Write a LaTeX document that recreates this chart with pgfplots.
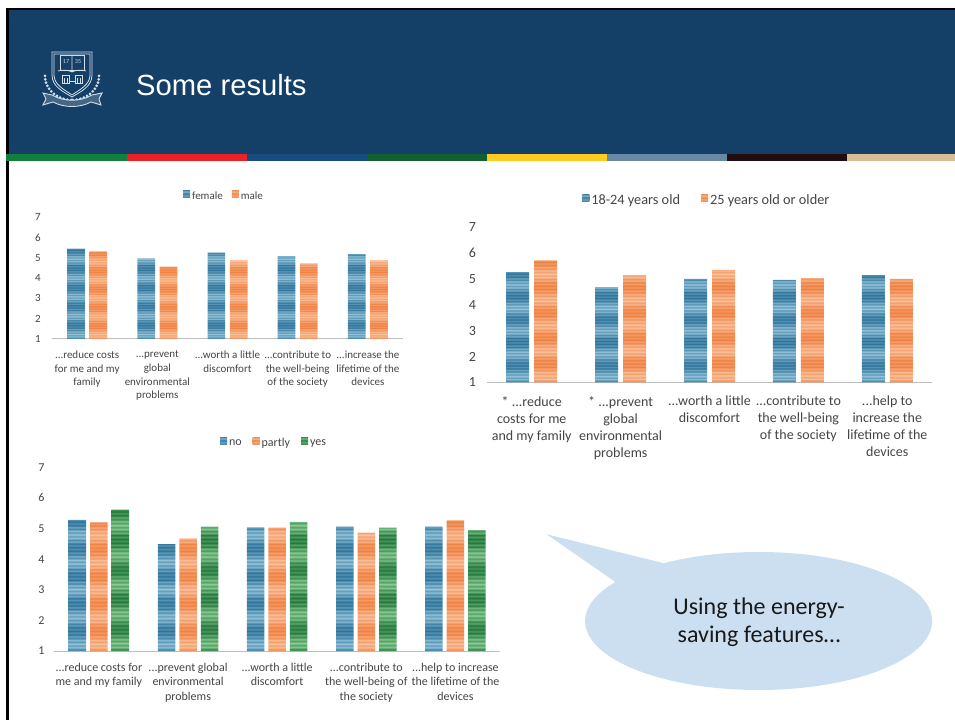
\documentclass[border=0pt]{standalone}
\usepackage{fontspec}
\setmainfont{Carlito}
\newfontfamily\arialfont{Liberation Sans}
\usepackage{pgfplots}
\usetikzlibrary{calc}
\pgfplotsset{compat=1.18}
\newcommand\dd{.\kern0pt.\kern0pt.}
\definecolor{hdr}{HTML}{143F66}
\definecolor{txt}{HTML}{454545}
\definecolor{axl}{HTML}{BEBEBE}
\definecolor{bluek}{HTML}{2A6F96}
\definecolor{bluel}{HTML}{9CCBE0}
\definecolor{orak}{HTML}{EE7E3E}
\definecolor{oral}{HTML}{FBC7A4}
\definecolor{grek}{HTML}{1F7438}
\definecolor{grel}{HTML}{92D29A}
\definecolor{legb}{HTML}{2F7A9C}
\definecolor{lego}{HTML}{F0905A}
\definecolor{legg}{HTML}{2C7A40}
\definecolor{bubble}{HTML}{CBDFF1}
\definecolor{crest}{HTML}{D3DEE9}
\makeatletter
\newcommand\mkstripes[3]{%
  \gdef\st@ps{color(0bp)=(#3!30!#2); color(25bp)=(#3!30!#2)}%
  \foreach \k in {1,...,72}{%
    \pgfmathtruncatemacro\m{max(3,min(97,42+32*sin(\k*24)+(mod(\k,2)==0?24:-24)))}%
    \pgfmathsetmacro\p{25+\k*50/72}%
    \xdef\st@ps{\st@ps; color(\p bp)=(#3!\m!#2)}%
  }%
  \xdef\st@ps{\st@ps; color(100bp)=(#3!30!#2)}%
  \edef\x{\noexpand\pgfdeclareverticalshading{#1}{100bp}{\st@ps}}\x
}
\makeatother
\mkstripes{stripeb}{bluek}{bluel}
\mkstripes{stripeo}{orak}{oral}
\mkstripes{stripeg}{grek}{grel}
\pgfplotsset{
  bars/.style={
    scale only axis, ybar, ymin=1, ymax=7, xmin=-0.5, xmax=4.5,
    xtick={0,1,2,3,4}, ytick={1,2,3,4,5,6,7},
    axis x line*=bottom, axis y line*=left,
    x axis line style={draw=axl,line width=1pt,-},
    y axis line style={draw=none},
    tick style={draw=none},
    /pgf/number format/assume math mode=true,
    legend columns=-1,
  },
  lb/.style={draw=none,shading=stripeb,legend image code/.code={\fill[legb] (0pt,-1.5pt) rectangle (7pt,5.5pt);}},
  lo/.style={draw=none,shading=stripeo,legend image code/.code={\fill[lego] (0pt,-1.5pt) rectangle (7pt,5.5pt);}},
  lg/.style={draw=none,shading=stripeg,legend image code/.code={\fill[legg] (0pt,-1.5pt) rectangle (7pt,5.5pt);}},
}
\begin{document}
\begin{tikzpicture}[x=1pt,y=1pt]
\fill[white] (0,0) rectangle (955,720);
% frame and header
\fill[black] (6,0) rectangle (8.7,712);
\fill[black] (6,709.5) rectangle (955,712);
\fill[hdr] (8.7,566) rectangle (955,709.5);
\foreach \a/\b/\c in {6/127/10803A,127/247/EC2028,247/367/174C80,367/487/116030,487/607/FFCB1F,607/727/6689A6,727/847/230C0F,847/955/DBBB94}{
  \definecolor{tmpc}{HTML}{\c}
  \fill[tmpc] (\a,559) rectangle (\b,566);
}
\node[anchor=west,text=white,font=\arialfont\fontsize{29.2}{32}\selectfont,inner sep=0pt] at (136,634.5) {Some results};
% crest
\begin{scope}[shift={(72,640)},crest,line width=.8pt]
\draw (-20,28)--(20,28)--(20,5) .. controls (20,-7) and (8,-12) .. (0,-17) .. controls (-8,-12) and (-20,-7) .. (-20,5) -- cycle;
\draw (-18,26)--(18,26)--(18,5) .. controls (18,-5) and (7,-10) .. (0,-15) .. controls (-7,-10) and (-18,-5) .. (-18,5) -- cycle;
\draw (-12,25) rectangle (12,10);
\draw (0,25)--(0,8) (-14,9) .. controls (-6,11) and (-2,9) .. (0,8) .. controls (2,9) and (6,11) .. (14,9);
\node[text=crest,font=\fontsize{6}{6}\selectfont,inner sep=0pt] at (-6,18) {17};
\node[text=crest,font=\fontsize{6}{6}\selectfont,inner sep=0pt] at (6,18) {35};
\draw (-10,-3) rectangle (-3,5) (3,-3) rectangle (10,5) (-3,-1)--(3,-1);
\draw (-8,-3)--(-8,2) (-5,-3)--(-5,2) (5,-3)--(5,2) (8,-3)--(8,2);
\foreach \t in {180,188,196,204,212,220,228,236,244,252,260,268}{
  \fill ($(0,4)+({27*cos(\t)},{24*sin(\t)})$) circle (1.5pt);
  \fill ($(0,4)+({-27*cos(\t)},{24*sin(\t)})$) circle (1.5pt);
}
\draw[line width=.9pt,fill=crest!25!hdr] (-29,-13) -- (-20,-15) .. controls (-8,-22) and (8,-22) .. (20,-15) -- (30,-13) -- (27,-19) -- (29,-25) -- (19,-22) .. controls (8,-28) and (-8,-28) .. (-19,-22) -- (-29,-25) -- (-26,-19) -- cycle;
\end{scope}
% chart 1
\begin{axis}[bars, at={(52pt,381pt)}, anchor=south west, width=351pt, height=122pt,
  bar width=17.7pt, ybar=4.6pt,
  ticklabel style={font=\fontsize{11}{13.7}\selectfont,text=txt},
  xticklabel style={align=center,anchor=north,yshift=-4pt},
  yticklabel style={anchor=center,xshift=-14pt},
  xticklabels={{\dd reduce costs\\for me and my\\family},{\dd prevent\\global\\environmental\\problems},{\dd worth a little\\discomfort},{\dd contribute to\\the well-being\\of the society},{\dd increase the\\lifetime of the\\devices}},
  legend style={at={(0.49,1.172)},anchor=center,draw=none,fill=none,font=\fontsize{11}{13}\selectfont,text=txt,inner sep=0pt,/tikz/every even column/.append style={column sep=7pt}},
]
\addplot[lb] coordinates {(0,5.44) (1,4.97) (2,5.25) (3,5.08) (4,5.18)};
\addplot[lo] coordinates {(0,5.31) (1,4.56) (2,4.87) (3,4.72) (4,4.87)};
\legend{female,male}
\end{axis}
% chart 2
\begin{axis}[bars, at={(487.3pt,337.7pt)}, anchor=south west, width=444.4pt, height=155pt,
  bar width=23pt, ybar=5pt,
  ticklabel style={font=\fontsize{14}{17}\selectfont,text=txt},
  xticklabel style={align=center,anchor=north,yshift=-6pt},
  yticklabel style={anchor=center,xshift=-15pt},
  xticklabels={{* \dd reduce\\costs for me\\and my family},{* \dd prevent\\global\\environmental\\problems},{\dd worth a little\\discomfort},{\dd contribute to\\the well-being\\of the society},{\dd help to\\increase the\\lifetime of the\\devices}},
  legend style={at={(0.494,1.176)},anchor=center,draw=none,fill=none,font=\fontsize{14.3}{15}\selectfont,text=txt,inner sep=0pt,/tikz/every even column/.append style={column sep=19pt}},
]
\addplot[lb] coordinates {(0,5.26) (1,4.68) (2,5.0) (3,4.96) (4,5.15)};
\addplot[lo] coordinates {(0,5.72) (1,5.15) (2,5.35) (3,5.03) (4,5.0)};
\legend{18-24 years old,25 years old or older}
\end{axis}
% chart 3
\begin{axis}[bars, at={(54.3pt,69pt)}, anchor=south west, width=445.7pt, height=183.7pt,
  bar width=17.5pt, ybar=4pt,
  ticklabel style={font=\fontsize{12}{14.7}\selectfont,text=txt},
  xticklabel style={align=center,anchor=north,yshift=-4pt},
  yticklabel style={anchor=center,xshift=-13pt},
  xticklabels={{\dd reduce costs for\\me and my family},{\dd prevent global\\environmental\\problems},{\dd worth a little\\discomfort},{\dd contribute to\\the well-being of\\the society},{\dd help to increase\\the lifetime of the\\devices}},
  legend style={at={(0.493,1.133)},anchor=center,draw=none,fill=none,font=\fontsize{12}{14}\selectfont,text=txt,inner sep=0pt,/tikz/every even column/.append style={column sep=9pt}},
]
\addplot[lb] coordinates {(0,5.28) (1,4.49) (2,5.04) (3,5.06) (4,5.06)};
\addplot[lo] coordinates {(0,5.2) (1,4.68) (2,5.03) (3,4.87) (4,5.27)};
\addplot[lg] coordinates {(0,5.62) (1,5.06) (2,5.22) (3,5.03) (4,4.95)};
\legend{no,partly,yes}
\end{axis}
% callout
\fill[bubble] (758.6,99) ellipse (173.5 and 69);
\fill[bubble] (546.7,185.7) -- (663,157) -- (640,110) -- (615,138.3) -- cycle;
\node[font=\fontsize{24}{28}\selectfont,align=center,text=black!90,inner sep=0pt] at (759,98) {Using the energy-\\saving features…};
\end{tikzpicture}
\end{document}
